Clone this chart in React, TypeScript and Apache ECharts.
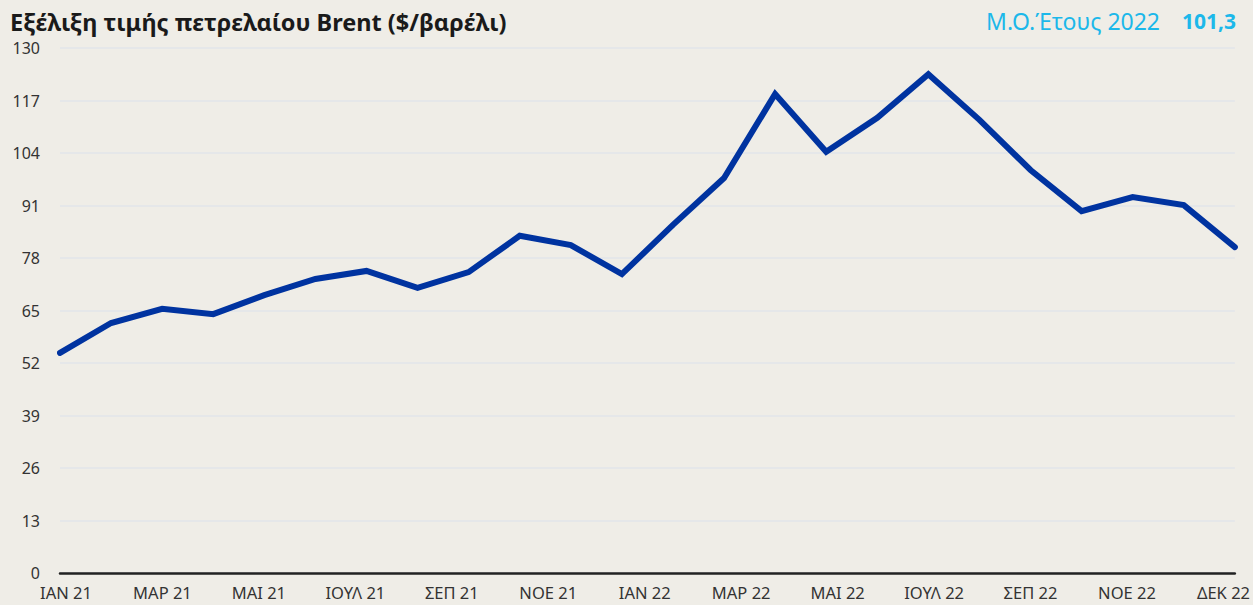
import React, { useEffect, useRef } from "react";
import * as echarts from "echarts";

const months = [
  "ΙΑΝ 21", "ΦΕΒ 21", "ΜΑΡ 21", "ΑΠΡ 21", "ΜΑΙ 21", "ΙΟΥΝ 21",
  "ΙΟΥΛ 21", "ΑΥΓ 21", "ΣΕΠ 21", "ΟΚΤ 21", "ΝΟΕ 21", "ΔΕΚ 21",
  "ΙΑΝ 22", "ΦΕΒ 22", "ΜΑΡ 22", "ΑΠΡ 22", "ΜΑΙ 22", "ΙΟΥΝ 22",
  "ΙΟΥΛ 22", "ΑΥΓ 22", "ΣΕΠ 22", "ΟΚΤ 22", "ΝΟΕ 22", "ΔΕΚ 22",
];
const brent = [
  54.5, 61.9, 65.4, 64.1, 68.8, 72.8, 74.8, 70.6, 74.5, 83.5, 81.2, 74.0,
  86.2, 97.8, 118.6, 104.3, 112.7, 123.5, 112.2, 99.8, 89.6, 93.1, 91.1, 80.7,
];
const tickLabels = [
  "ΙΑΝ 21", "ΜΑΡ 21", "ΜΑΙ 21", "ΙΟΥΛ 21", "ΣΕΠ 21", "ΝΟΕ 21",
  "ΙΑΝ 22", "ΜΑΡ 22", "ΜΑΙ 22", "ΙΟΥΛ 22", "ΣΕΠ 22", "ΝΟΕ 22", "ΔΕΚ 22",
];
const yTicks = [0, 13, 26, 39, 52, 65, 78, 91, 104, 117, 130];
const titleText = "Εξέλιξη τιμής πετρελαίου Brent ($/βαρέλι)";
const avgLabel = "Μ.Ο.Έτους 2022";
const avgValue = "101,3";

const FONT = "'Noto Sans', 'Open Sans', sans-serif";

export default function App() {
  const ref = useRef<HTMLDivElement>(null);
  useEffect(() => {
    document.body.style.margin = "0";
    if (!ref.current) return;
    const chart = echarts.init(ref.current, null, { renderer: "svg" });
    const labelMin = -0.0621;
    const labelMax = 12.118;
    chart.setOption({
      animation: false,
      backgroundColor: "#efede7",
      textStyle: { fontFamily: FONT },
      title: {
        text: titleText,
        left: 10,
        top: 9,
        padding: 0,
        textStyle: { fontSize: 23.5, fontWeight: "bold", color: "#1a1a1a", fontFamily: FONT, lineHeight: 26 },
      },
      graphic: [
        {
          type: "text",
          right: 93,
          top: 9,
          style: { text: avgLabel, fontSize: 23, fill: "#1cb8ea", fontFamily: FONT },
        },
        {
          type: "text",
          right: 17,
          top: 10,
          style: { text: avgValue, fontSize: 21, fontWeight: "bold", fill: "#1cb8ea", fontFamily: FONT },
        },
      ],
      grid: { left: 60, right: 17, top: 48, bottom: 32, containLabel: false },
      xAxis: [
        {
          type: "category",
          data: months,
          boundaryGap: false,
          axisLine: { show: true, lineStyle: { color: "#222222", width: 2.5 } },
          axisTick: { show: false },
          axisLabel: { show: false },
          splitLine: { show: false },
        },
        {
          type: "value",
          position: "bottom",
          min: labelMin,
          max: labelMax,
          axisLine: { show: false },
          axisTick: { show: false },
          splitLine: { show: false },
          axisLabel: {
            show: true,
            customValues: tickLabels.map((_, i) => i),
            formatter: (v: number) => tickLabels[Math.round(v)] ?? "",
            fontSize: 16.5,
            color: "#333333",
            margin: 11,
            fontFamily: FONT,
          },
        },
      ],
      yAxis: {
        type: "value",
        min: yTicks[0],
        max: yTicks[yTicks.length - 1],
        interval: 13,
        axisLine: { show: false },
        axisTick: { show: false },
        axisLabel: { fontSize: 16, color: "#333333", margin: 20, fontFamily: FONT },
        splitLine: { show: true, lineStyle: { color: "#e2e4ea", width: 1.5 } },
      },
      series: [
        {
          type: "line",
          xAxisIndex: 0,
          data: brent,
          showSymbol: false,
          symbol: "none",
          lineStyle: { color: "#0033a0", width: 6, cap: "round", join: "miter" },
          z: 5,
        },
      ],
    });
    return () => chart.dispose();
  }, []);
  return <div ref={ref} style={{ width: 1253, height: 605 }} />;
}
